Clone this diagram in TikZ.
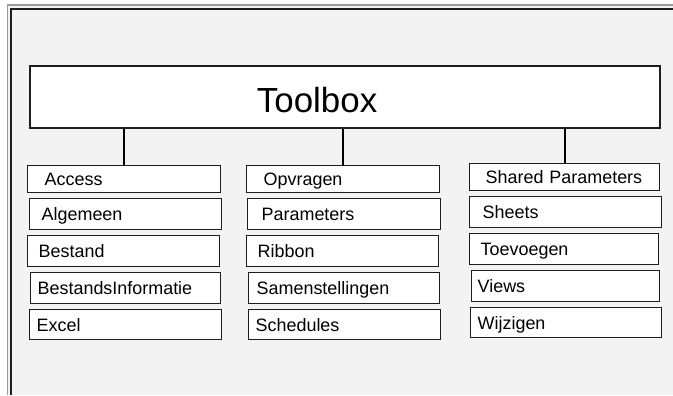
\documentclass[tikz,border=0pt]{standalone}
\usepackage{fontspec}
\setmainfont{Liberation Sans}
\usepackage{xcolor}
\usepackage{tikz}
\usetikzlibrary{positioning,calc}

\definecolor{panelgrey}{HTML}{F3F3F3}
\definecolor{framegrey}{HTML}{9A9A9A}
\definecolor{inkline}{HTML}{1E1E1E}

\tikzset{
  topbox/.style={draw=inkline, line width=1.4bp, fill=white, inner sep=0pt,
    text width=630bp, align=left, minimum height=62bp,
    font=\fontsize{35}{37}\selectfont, text height=30bp, text depth=0pt},
  itembox/.style={draw=inkline, line width=1.4bp, fill=white, anchor=north west,
    inner xsep=0pt, inner ysep=0pt, text width=#1, align=left,
    font=\fontsize{18}{20}\selectfont, text height=13bp, text depth=0pt},
  stem/.style={draw=black, line width=1.6bp}
}

\begin{document}
\begin{tikzpicture}[x=1bp,y=-1bp]
\useasboundingbox (0,0) rectangle (673,395);
% panel and its frame
\fill[panelgrey] (7,4) rectangle (673,395);
\draw[framegrey, line width=1.5bp] (7.5,395) -- (7.5,5) -- (673,5);
\draw[inkline, line width=1.5bp] (11,395) -- (11,9) -- (673,9);

\node[topbox] (toolbox) at (345,97) {\hspace*{227bp}Toolbox};

% first column
\node[itembox=193bp, minimum height=27bp] (access) at (27,165) {\hspace*{17bp}Access};
\node[itembox=192bp, minimum height=31bp] (algemeen) at (29,198) {\hspace*{12bp}Algemeen};
\node[itembox=192bp, minimum height=31bp] (bestand) at (27,235) {\hspace*{11bp}Bestand};
\node[itembox=190bp, minimum height=31bp] (bestinfo) at (30,272) {\hspace*{7bp}BestandsInformatie};
\node[itembox=192bp, minimum height=30bp] (excel) at (29,309) {\hspace*{7bp}Excel};

% second column
\node[itembox=193bp, minimum height=27bp] (opvragen) at (246,165) {\hspace*{17bp}Opvragen};
\node[itembox=193bp, minimum height=31bp] (parameters) at (247,198) {\hspace*{14bp}Parameters};
\node[itembox=192bp, minimum height=31bp] (ribbon) at (246,235) {\hspace*{11bp}Ribbon};
\node[itembox=191bp, minimum height=31bp] (samenst) at (248,272) {\hspace*{8bp}Samenstellingen};
\node[itembox=192bp, minimum height=30bp] (schedules) at (248,309) {\hspace*{7bp}Schedules};

% third column
\node[itembox=190bp, minimum height=27bp] (shared) at (469,163) {\hspace*{16bp}Shared Parameters};
\node[itembox=192bp, minimum height=31bp] (sheets) at (469,196) {\hspace*{13bp}Sheets};
\node[itembox=189bp, minimum height=31bp] (toevoegen) at (469,233) {\hspace*{11bp}Toevoegen};
\node[itembox=188bp, minimum height=31bp] (views) at (471,270) {\hspace*{6bp}Views};
\node[itembox=191bp, minimum height=30bp] (wijzigen) at (470,307) {\hspace*{7bp}Wijzigen};

\draw[stem] (access.north) -- (access.north |- toolbox.south);
\draw[stem] (opvragen.north) -- (opvragen.north |- toolbox.south);
\draw[stem] (shared.north) -- (shared.north |- toolbox.south);
\end{tikzpicture}
\end{document}
